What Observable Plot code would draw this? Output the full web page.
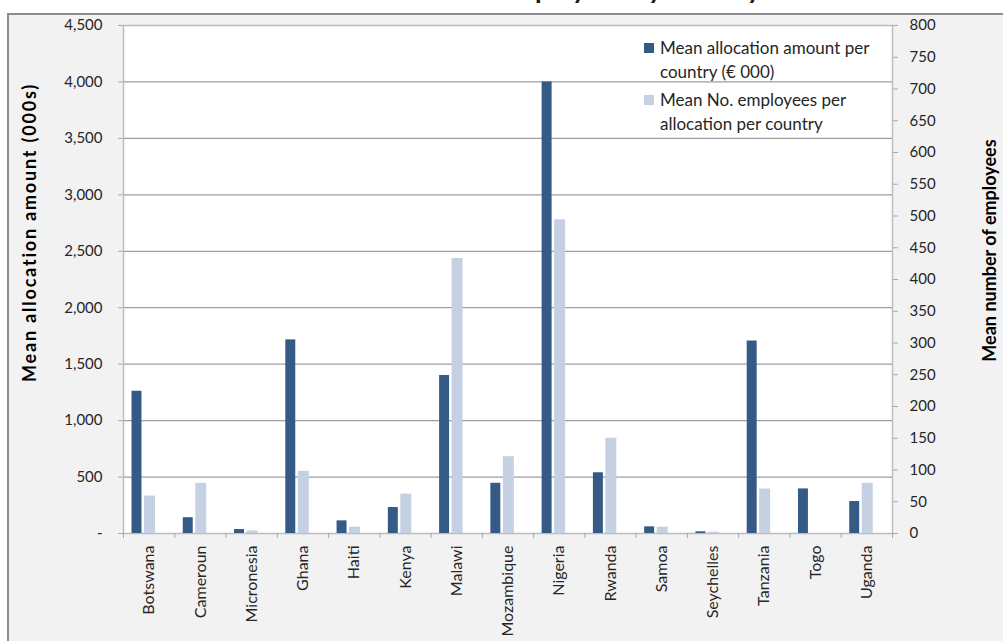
<!DOCTYPE html>
<html>
<head>
<meta charset="utf-8">
<script src="https://cdn.jsdelivr.net/npm/d3@7"></script>
<script src="https://cdn.jsdelivr.net/npm/@observablehq/plot@0.6"></script>
<style>
  html, body { margin: 0; padding: 0; background: #ffffff; overflow: hidden; }
  body { width: 1003px; height: 641px; position: relative; font-family: Lato, "Open Sans", sans-serif; color: #262626; }
  #title { position: absolute; top: -25px; left: 0; width: 761px; text-align: right; font-size: 27px; line-height: 27px; font-weight: bold; color: #1a1a1a; white-space: nowrap; }
  #panel { position: absolute; left: 7px; top: 13px; width: 1010px; height: 640px; background: #f2f2f2; border: 2px solid #8c8c8c; box-sizing: border-box; }
  #chart { position: absolute; left: 0; top: 0; }
  #legend { position: absolute; left: 644px; top: 36px; font-size: 17px; line-height: 24px; color: #262626; }
  #legend .item { display: flex; align-items: flex-start; margin-bottom: 4px; }
  #legend .sw { width: 10px; height: 10px; margin-top: 7px; margin-right: 6px; flex: none; }
</style>
</head>
<body>
<div id="title">Mean allocation amount and number of employees by country</div>
<div id="panel"></div>
<div id="chart"></div>
<div id="legend"></div>
<script>
// Countries along the x axis
const countries = ["Botswana", "Cameroun", "Micronesia", "Ghana", "Haiti", "Kenya", "Malawi", "Mozambique", "Nigeria", "Rwanda", "Samoa", "Seychelles", "Tanzania", "Togo", "Uganda"];
// Mean allocation amount per country (€ 000) – left axis
const allocation = [1260, 140, 35, 1715, 112, 230, 1400, 445, 4000, 538, 59, 15, 1705, 395, 283];
// Mean number of employees per allocation per country – right axis
const employees = [59, 79, 4, 98, 10, 62, 433, 121, 494, 150, 10, 2, 70, 0, 79];
// Axis tick values
const allocTicks = d3.range(0, 4501, 500);
const empTicks = d3.range(0, 801, 50);
// Series names shown in the legend
const seriesNames = ["Mean allocation amount per country (€ 000)", "Mean No. employees per allocation per country"];
const leftTitle = "Mean allocation amount (000s)";
const rightTitle = "Mean number of employees";

const darkBlue = "#365a86";
const lightBlue = "#c5d0e3";
// Right axis (0–800) shares the plot height with the left axis (0–4500)
const ratio = 4500 / 800;

const rows = countries.map((c, i) => ({country: c, i, alloc: allocation[i], emp: employees[i]}));

const chart = Plot.plot({
  width: 1003,
  height: 641,
  marginLeft: 123,
  marginRight: 111,
  marginTop: 25,
  marginBottom: 108,
  style: {background: "transparent", fontFamily: "Lato, 'Open Sans', sans-serif", fontSize: "15px", color: "#262626"},
  x: {domain: [0, countries.length], axis: null},
  y: {domain: [0, 4500], axis: null},
  marks: [
    Plot.frame({fill: "white"}),
    Plot.gridY({ticks: allocTicks, stroke: "#9e9e9e", strokeOpacity: 1, strokeWidth: 1.2}),
    Plot.frame({stroke: "#bdbdbd", strokeWidth: 1.5}),
    Plot.rectY(rows, {x1: "i", x2: d => d.i + 1, y: "alloc", fill: darkBlue, insetLeft: 8.5, insetRight: 32.8}),
    Plot.rectY(rows, {x1: "i", x2: d => d.i + 1, y: d => d.emp * ratio, fill: lightBlue, insetLeft: 21, insetRight: 19.3}),
    // left axis
    Plot.axisY({ticks: allocTicks, tickSize: 5, tickPadding: 16, stroke: "#a8a8a8", label: null,
      tickFormat: d => d === 0 ? "-" : d3.format(",")(d)}),
    // right axis
    Plot.axisY({anchor: "right", ticks: empTicks.map(v => v * ratio), tickSize: 5, tickPadding: 12, stroke: "#a8a8a8", label: null,
      tickFormat: v => String(Math.round(v / ratio))}),
    // category boundary ticks
    Plot.axisX({ticks: d3.range(0, countries.length + 1), tickSize: 5, stroke: "#a8a8a8", tickFormat: () => "", label: null}),
    // category labels
    Plot.axisX({ticks: d3.range(countries.length).map(i => i + 0.5), tickSize: 0, tickPadding: 12, tickRotate: -90, label: null,
      fontSize: 16, tickFormat: v => countries[Math.floor(v)]}),
    // axis titles
    Plot.text([leftTitle], {frameAnchor: "left", textAnchor: "middle", dx: -93, dy: -47, rotate: -90, fontWeight: "bold", fontSize: 18, fill: "#000"}),
    Plot.text([rightTitle], {frameAnchor: "right", textAnchor: "middle", dx: 98, dy: -29, rotate: -90, fontWeight: "bold", fontSize: 18, fill: "#000"})
  ]
});
// the left title is set a little wider
d3.select(chart).selectAll("text").filter(function() { return this.textContent === leftTitle; })
  .attr("letter-spacing", "1.8px");
document.getElementById("chart").appendChild(chart);

// Legend
const legend = document.getElementById("legend");
[darkBlue, lightBlue].forEach((col, k) => {
  const item = document.createElement("div");
  item.className = "item";
  const sw = document.createElement("div");
  sw.className = "sw";
  sw.style.background = col;
  const label = document.createElement("div");
  label.style.width = "225px";
  label.textContent = seriesNames[k];
  item.appendChild(sw);
  item.appendChild(label);
  legend.appendChild(item);
});
</script>
</body>
</html>
